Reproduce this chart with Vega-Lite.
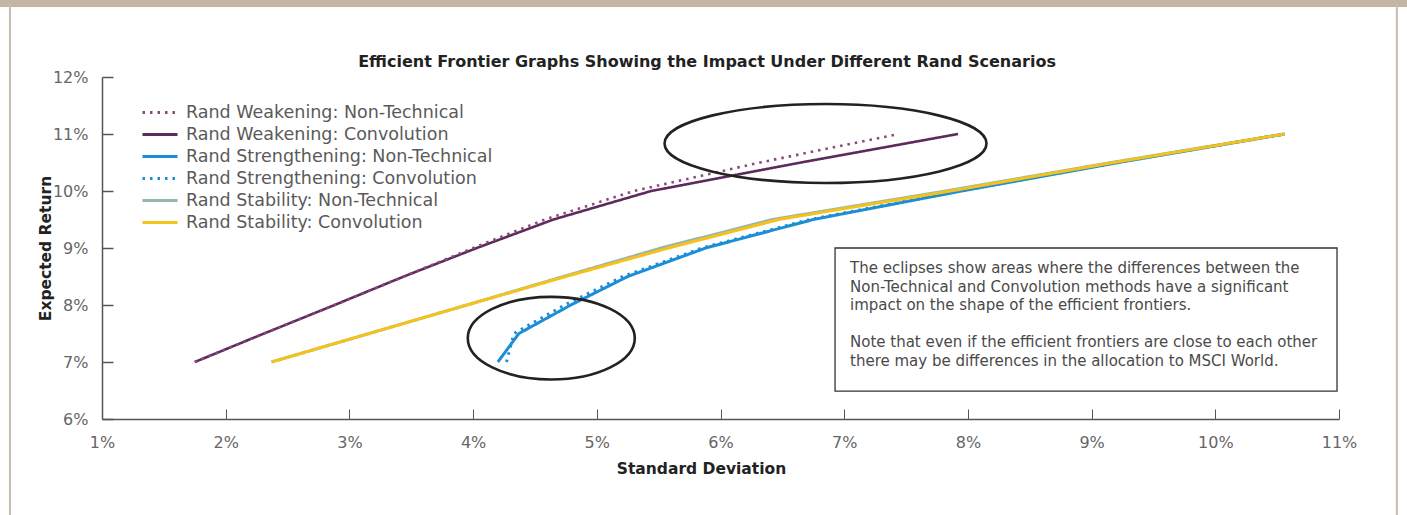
{
  "$schema": "https://vega.github.io/schema/vega-lite/v6.json",
  "width": 1237,
  "height": 342,
  "autosize": {"type": "none"},
  "padding": {"left": 102, "top": 77, "right": 68, "bottom": 96},
  "background": "white",
  "config": {
    "view": {"stroke": null},
    "font": "DejaVu Sans",
    "axis": {"labelFont": "DejaVu Sans", "titleFont": "DejaVu Sans"},
    "legend": {"labelFont": "DejaVu Sans"}
  },
  "datasets": {
    "frontiers": [
      {"series": "Rand Weakening: Non-Technical", "sd": 1.75, "ret": 7.0},
      {"series": "Rand Weakening: Non-Technical", "sd": 2.31, "ret": 7.5},
      {"series": "Rand Weakening: Non-Technical", "sd": 2.88, "ret": 8.0},
      {"series": "Rand Weakening: Non-Technical", "sd": 3.44, "ret": 8.5},
      {"series": "Rand Weakening: Non-Technical", "sd": 4.0, "ret": 9.0},
      {"series": "Rand Weakening: Non-Technical", "sd": 4.58, "ret": 9.5},
      {"series": "Rand Weakening: Non-Technical", "sd": 5.3, "ret": 10.0},
      {"series": "Rand Weakening: Non-Technical", "sd": 6.32, "ret": 10.5},
      {"series": "Rand Weakening: Non-Technical", "sd": 7.44, "ret": 11.0},
      {"series": "Rand Weakening: Convolution", "sd": 1.75, "ret": 7.0},
      {"series": "Rand Weakening: Convolution", "sd": 2.31, "ret": 7.5},
      {"series": "Rand Weakening: Convolution", "sd": 2.88, "ret": 8.0},
      {"series": "Rand Weakening: Convolution", "sd": 3.44, "ret": 8.5},
      {"series": "Rand Weakening: Convolution", "sd": 4.03, "ret": 9.0},
      {"series": "Rand Weakening: Convolution", "sd": 4.65, "ret": 9.5},
      {"series": "Rand Weakening: Convolution", "sd": 5.44, "ret": 10.0},
      {"series": "Rand Weakening: Convolution", "sd": 6.65, "ret": 10.5},
      {"series": "Rand Weakening: Convolution", "sd": 7.92, "ret": 11.0},
      {"series": "Rand Strengthening: Non-Technical", "sd": 4.2, "ret": 7.0},
      {"series": "Rand Strengthening: Non-Technical", "sd": 4.37, "ret": 7.5},
      {"series": "Rand Strengthening: Non-Technical", "sd": 4.79, "ret": 8.0},
      {"series": "Rand Strengthening: Non-Technical", "sd": 5.25, "ret": 8.5},
      {"series": "Rand Strengthening: Non-Technical", "sd": 5.88, "ret": 9.0},
      {"series": "Rand Strengthening: Non-Technical", "sd": 6.75, "ret": 9.5},
      {"series": "Rand Strengthening: Non-Technical", "sd": 7.95, "ret": 10.0},
      {"series": "Rand Strengthening: Non-Technical", "sd": 9.22, "ret": 10.5},
      {"series": "Rand Strengthening: Non-Technical", "sd": 10.56, "ret": 11.0},
      {"series": "Rand Strengthening: Convolution", "sd": 4.27, "ret": 7.0},
      {"series": "Rand Strengthening: Convolution", "sd": 4.33, "ret": 7.5},
      {"series": "Rand Strengthening: Convolution", "sd": 4.74, "ret": 8.0},
      {"series": "Rand Strengthening: Convolution", "sd": 5.21, "ret": 8.5},
      {"series": "Rand Strengthening: Convolution", "sd": 5.85, "ret": 9.0},
      {"series": "Rand Strengthening: Convolution", "sd": 6.72, "ret": 9.5},
      {"series": "Rand Strengthening: Convolution", "sd": 7.93, "ret": 10.0},
      {"series": "Rand Strengthening: Convolution", "sd": 9.2, "ret": 10.5},
      {"series": "Rand Strengthening: Convolution", "sd": 10.56, "ret": 11.0},
      {"series": "Rand Stability: Non-Technical", "sd": 2.37, "ret": 7.0},
      {"series": "Rand Stability: Non-Technical", "sd": 3.16, "ret": 7.5},
      {"series": "Rand Stability: Non-Technical", "sd": 3.95, "ret": 8.0},
      {"series": "Rand Stability: Non-Technical", "sd": 4.73, "ret": 8.5},
      {"series": "Rand Stability: Non-Technical", "sd": 5.52, "ret": 9.0},
      {"series": "Rand Stability: Non-Technical", "sd": 6.42, "ret": 9.5},
      {"series": "Rand Stability: Non-Technical", "sd": 7.82, "ret": 10.0},
      {"series": "Rand Stability: Non-Technical", "sd": 9.16, "ret": 10.5},
      {"series": "Rand Stability: Non-Technical", "sd": 10.56, "ret": 11.0},
      {"series": "Rand Stability: Convolution", "sd": 2.37, "ret": 7.0},
      {"series": "Rand Stability: Convolution", "sd": 3.16, "ret": 7.5},
      {"series": "Rand Stability: Convolution", "sd": 3.95, "ret": 8.0},
      {"series": "Rand Stability: Convolution", "sd": 4.75, "ret": 8.5},
      {"series": "Rand Stability: Convolution", "sd": 5.58, "ret": 9.0},
      {"series": "Rand Stability: Convolution", "sd": 6.47, "ret": 9.5},
      {"series": "Rand Stability: Convolution", "sd": 7.86, "ret": 10.0},
      {"series": "Rand Stability: Convolution", "sd": 9.18, "ret": 10.5},
      {"series": "Rand Stability: Convolution", "sd": 10.56, "ret": 11.0}
    ]
  },
  "data": {"name": "frontiers"},
  "layer": [
    {
      "transform": [{"filter": "datum.series === 'Rand Stability: Non-Technical'"}],
      "mark": {"type": "line", "strokeWidth": 3, "strokeCap": "butt"},
      "encoding": {
        "x": {
          "field": "sd", "type": "quantitative",
          "scale": {"domain": [1, 11], "nice": false, "zero": false},
          "axis": {
            "title": "Standard Deviation",
            "values": [1, 2, 3, 4, 5, 6, 7, 8, 9, 10, 11],
            "labelExpr": "datum.value + '%'",
            "grid": false,
            "domainColor": "#555555", "domainWidth": 1.5,
            "tickColor": "#555555", "tickWidth": 1, "tickSize": -10,
            "labelFontSize": 16, "labelColor": "#666666",
            "labelPadding": 25, "labelFlush": false,
            "titleFontSize": 15.5, "titleFontWeight": "bold", "titleColor": "#222222",
            "titleX": 599, "titleY": 49, "titleBaseline": "middle"
          }
        },
        "y": {
          "field": "ret", "type": "quantitative",
          "scale": {"domain": [6, 12], "nice": false, "zero": false},
          "axis": {
            "title": "Expected Return",
            "values": [6, 7, 8, 9, 10, 11, 12],
            "labelExpr": "datum.value + '%'",
            "grid": false,
            "domainColor": "#555555", "domainWidth": 1.5,
            "tickColor": "#555555", "tickWidth": 1.5, "tickSize": -11,
            "labelFontSize": 16, "labelColor": "#666666",
            "labelPadding": 25, "labelFlush": false,
            "titleFontSize": 15.5, "titleFontWeight": "bold", "titleColor": "#222222",
            "titleX": -57, "titleY": 171, "titleBaseline": "middle", "titleAngle": -90
          }
        },
        "color": {
          "field": "series", "type": "nominal",
          "scale": {
            "domain": ["Rand Weakening: Non-Technical", "Rand Weakening: Convolution", "Rand Strengthening: Non-Technical", "Rand Strengthening: Convolution", "Rand Stability: Non-Technical", "Rand Stability: Convolution"],
            "range": ["#8a4a7a", "#5c2b5c", "#1b8ed5", "#1b8ed5", "#94b6b1", "#f5c21b"]
          },
          "legend": {
            "title": null,
            "orient": "none",
            "legendX": 39,
            "legendY": 24.5,
            "symbolType": "stroke",
            "symbolSize": 1225,
            "symbolStrokeWidth": 3,
            "clipHeight": 22,
            "labelFontSize": 17.5,
            "labelColor": "#5a5a5a",
            "labelOffset": 7,
            "rowPadding": 0,
            "labelLimit": 400
          }
        },
        "strokeDash": {
          "field": "series", "type": "nominal",
          "scale": {
            "domain": ["Rand Weakening: Non-Technical", "Rand Weakening: Convolution", "Rand Strengthening: Non-Technical", "Rand Strengthening: Convolution", "Rand Stability: Non-Technical", "Rand Stability: Convolution"],
            "range": [[2.5, 5], [1, 0], [1, 0], [2.5, 5], [1, 0], [1, 0]]
          },
          "legend": null
        }
      }
    },
    {
      "transform": [{"filter": "datum.series === 'Rand Strengthening: Non-Technical'"}],
      "mark": {"type": "line", "strokeWidth": 3, "strokeCap": "butt"},
      "encoding": {
        "x": {"field": "sd", "type": "quantitative"},
        "y": {"field": "ret", "type": "quantitative"},
        "color": {"field": "series", "type": "nominal"},
        "strokeDash": {"field": "series", "type": "nominal"}
      }
    },
    {
      "transform": [{"filter": "datum.series === 'Rand Strengthening: Convolution'"}],
      "mark": {"type": "line", "strokeWidth": 3, "strokeCap": "butt"},
      "encoding": {
        "x": {"field": "sd", "type": "quantitative"},
        "y": {"field": "ret", "type": "quantitative"},
        "color": {"field": "series", "type": "nominal"},
        "strokeDash": {"field": "series", "type": "nominal"}
      }
    },
    {
      "transform": [{"filter": "datum.series === 'Rand Stability: Convolution'"}],
      "mark": {"type": "line", "strokeWidth": 3, "strokeCap": "butt"},
      "encoding": {
        "x": {"field": "sd", "type": "quantitative"},
        "y": {"field": "ret", "type": "quantitative"},
        "color": {"field": "series", "type": "nominal"},
        "strokeDash": {"field": "series", "type": "nominal"}
      }
    },
    {
      "transform": [{"filter": "datum.series === 'Rand Weakening: Convolution'"}],
      "mark": {"type": "line", "strokeWidth": 2.6, "strokeCap": "butt"},
      "encoding": {
        "x": {"field": "sd", "type": "quantitative"},
        "y": {"field": "ret", "type": "quantitative"},
        "color": {"field": "series", "type": "nominal"},
        "strokeDash": {"field": "series", "type": "nominal"}
      }
    },
    {
      "transform": [{"filter": "datum.series === 'Rand Weakening: Non-Technical'"}],
      "mark": {"type": "line", "strokeWidth": 2.6, "strokeCap": "butt"},
      "encoding": {
        "x": {"field": "sd", "type": "quantitative"},
        "y": {"field": "ret", "type": "quantitative"},
        "color": {"field": "series", "type": "nominal"},
        "strokeDash": {"field": "series", "type": "nominal"}
      }
    },
    {
      "data": {"values": [{}]},
      "mark": {"type": "point", "filled": false, "strokeWidth": 2.6, "color": "#222222", "opacity": 1,
        "shape": "M -1 0 C -1 -0.1353 -0.5523 -0.245 0 -0.245 C 0.5523 -0.245 1 -0.1353 1 0 C 1 0.1353 0.5523 0.245 0 0.245 C -0.5523 0.245 -1 0.1353 -1 0 Z",
        "size": 103684},
      "encoding": {
        "x": {"datum": 6.849, "type": "quantitative"},
        "y": {"datum": 10.833, "type": "quantitative"}
      }
    },
    {
      "data": {"values": [{}]},
      "mark": {"type": "point", "filled": false, "strokeWidth": 2.6, "color": "#222222", "opacity": 1,
        "shape": "M -1 0 C -1 -0.2734 -0.5523 -0.495 0 -0.495 C 0.5523 -0.495 1 -0.2734 1 0 C 1 0.2734 0.5523 0.495 0 0.495 C -0.5523 0.495 -1 0.2734 -1 0 Z",
        "size": 27889},
      "encoding": {
        "x": {"datum": 4.632, "type": "quantitative"},
        "y": {"datum": 7.418, "type": "quantitative"}
      }
    },
    {
      "data": {"values": [{}]},
      "mark": {"type": "rect", "fill": null, "stroke": "#333333", "strokeWidth": 1.3},
      "encoding": {
        "x": {"datum": 6.926, "type": "quantitative"},
        "x2": {"datum": 10.984},
        "y": {"datum": 9.0, "type": "quantitative"},
        "y2": {"datum": 6.49}
      }
    },
    {
      "data": {"values": [{}]},
      "mark": {"type": "text", "align": "left", "baseline": "top", "fontSize": 15, "color": "#4a4a4a", "lineHeight": 18.6, "font": "DejaVu Sans",
        "text": ["The eclipses show areas where the differences between the", "Non-Technical and Convolution methods have a significant", "impact on the  shape of the efficient frontiers."]},
      "encoding": {
        "x": {"datum": 7.047, "type": "quantitative"},
        "y": {"datum": 8.77, "type": "quantitative"}
      }
    },
    {
      "data": {"values": [{}]},
      "mark": {"type": "text", "align": "left", "baseline": "top", "fontSize": 15, "color": "#4a4a4a", "lineHeight": 18.6, "font": "DejaVu Sans",
        "text": ["Note that even if the efficient frontiers are close to  each other", "there may be differences in the  allocation to MSCI World."]},
      "encoding": {
        "x": {"datum": 7.047, "type": "quantitative"},
        "y": {"datum": 7.472, "type": "quantitative"}
      }
    },
    {
      "data": {"values": [{}]},
      "mark": {"type": "text", "align": "center", "baseline": "middle", "fontSize": 16, "fontWeight": "bold", "color": "#222222", "font": "DejaVu Sans",
        "text": "Efficient Frontier Graphs Showing the Impact Under Different Rand Scenarios"},
      "encoding": {
        "x": {"datum": 5.891, "type": "quantitative"},
        "y": {"datum": 12.263, "type": "quantitative"}
      }
    },
    {
      "data": {"values": [{}]},
      "mark": {"type": "rect", "fill": "#c3b4a3"},
      "encoding": {
        "x": {"datum": 0, "type": "quantitative"},
        "x2": {"datum": 12},
        "y": {"datum": 13.228, "type": "quantitative"},
        "y2": {"datum": 13.6}
      }
    },
    {
      "data": {"values": [{}]},
      "mark": {"type": "rule", "color": "#c9bcae", "strokeWidth": 2},
      "encoding": {
        "x": {"datum": 0.256, "type": "quantitative"},
        "y": {"datum": 13.3, "type": "quantitative"},
        "y2": {"datum": 4.2}
      }
    },
    {
      "data": {"values": [{}]},
      "mark": {"type": "rule", "color": "#c9bcae", "strokeWidth": 2},
      "encoding": {
        "x": {"datum": 11.468, "type": "quantitative"},
        "y": {"datum": 13.3, "type": "quantitative"},
        "y2": {"datum": 4.2}
      }
    }
  ]
}
